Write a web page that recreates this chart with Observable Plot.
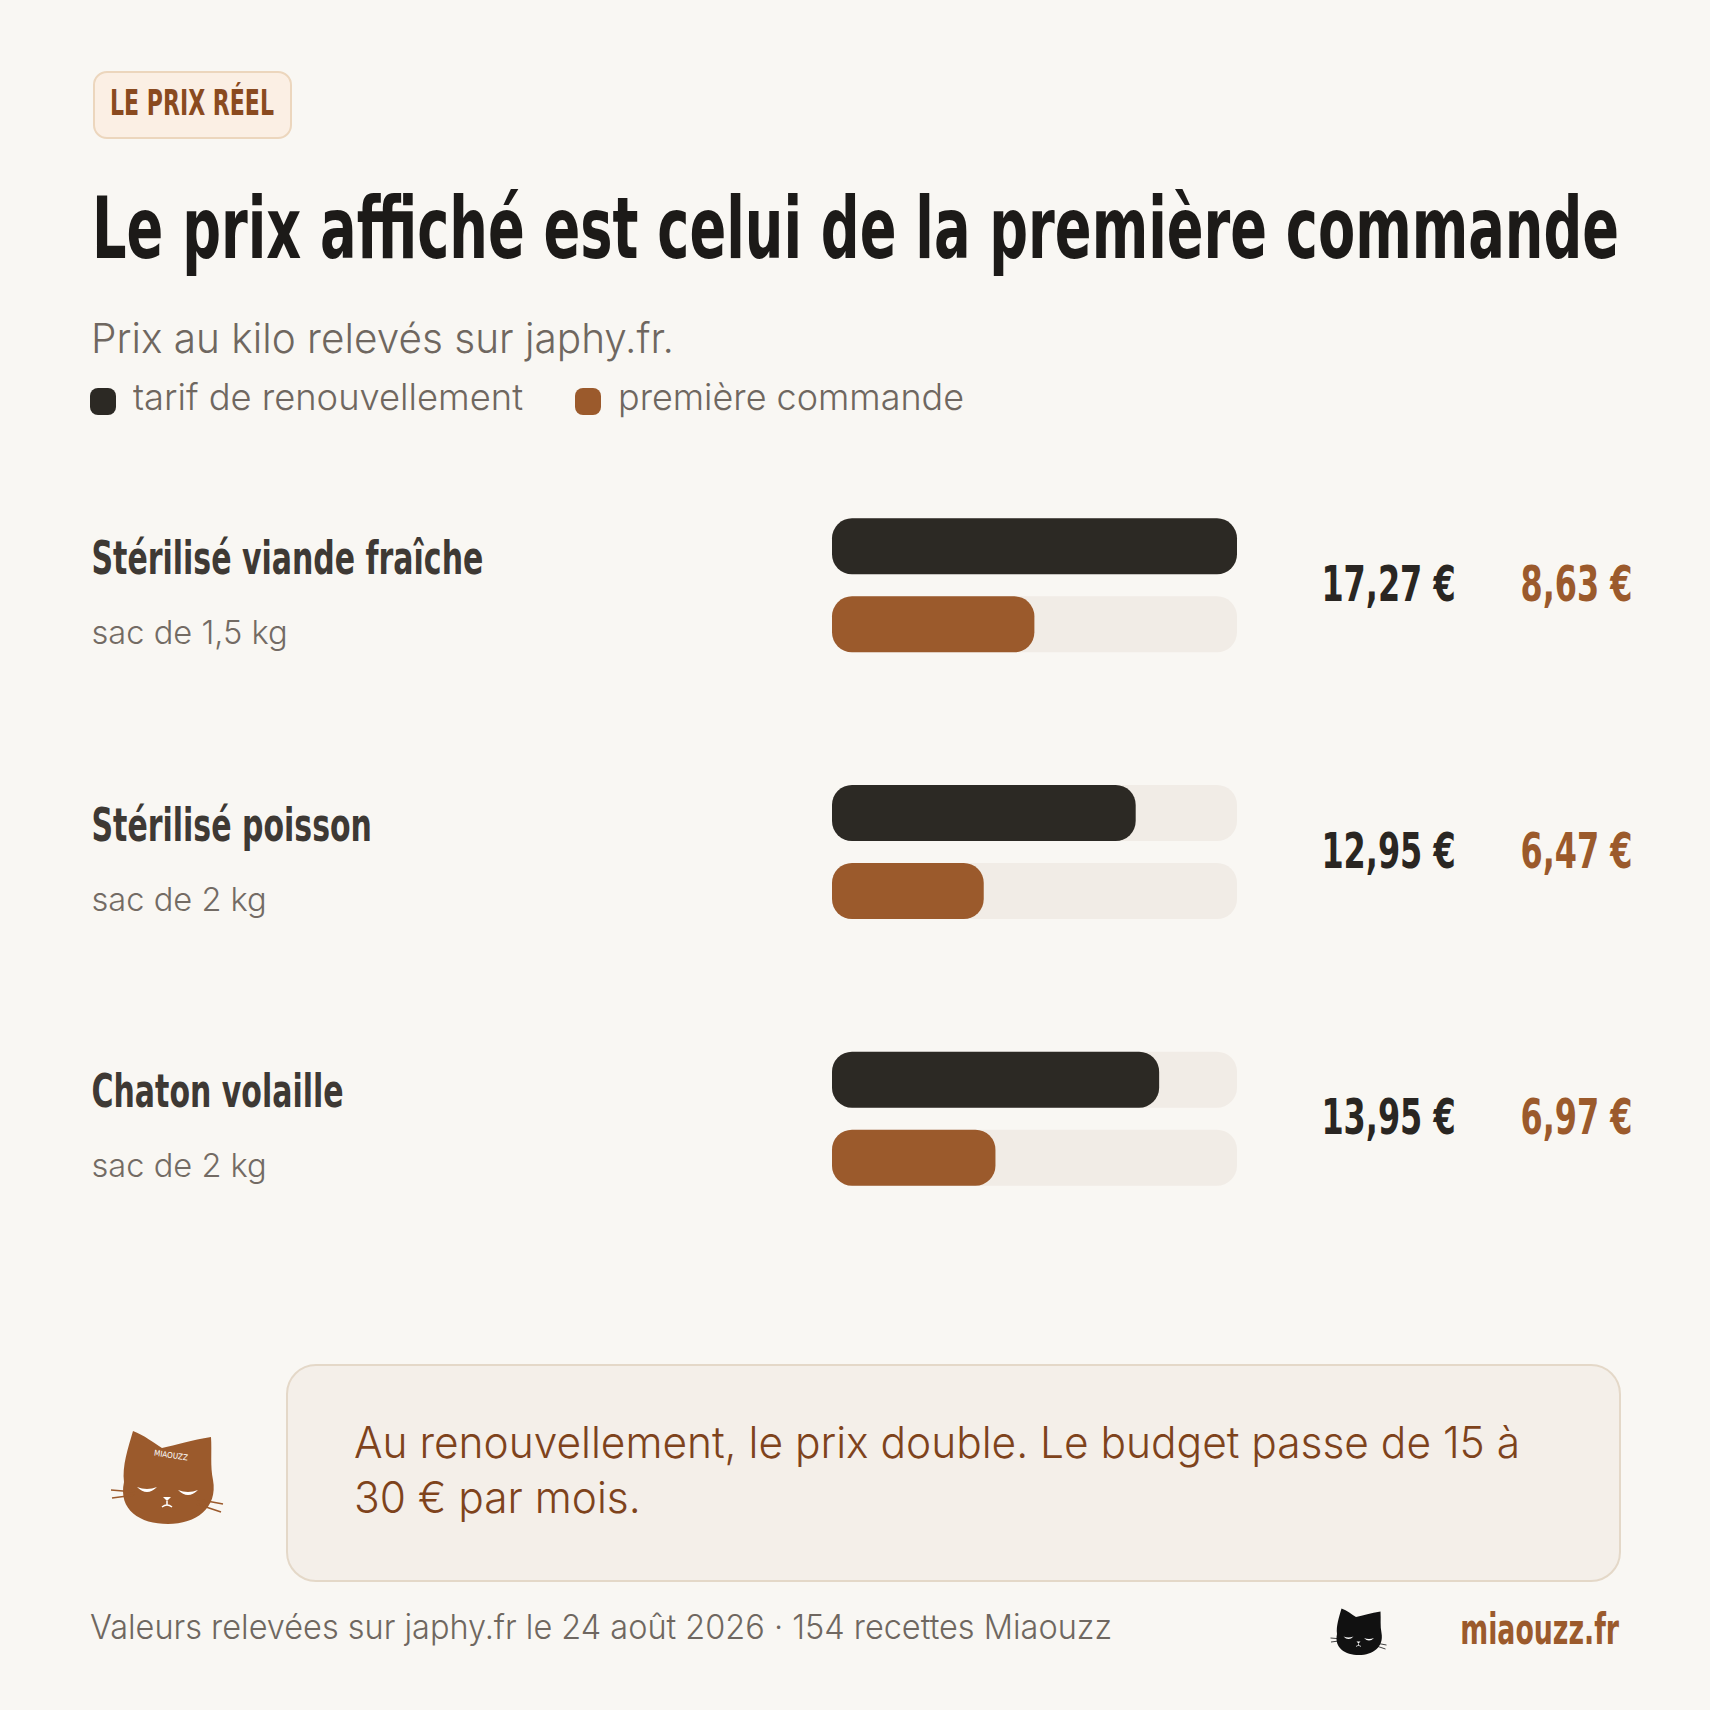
<!DOCTYPE html>
<html><head><meta charset="utf-8">
<script src="https://cdn.jsdelivr.net/npm/d3@7"></script>
<script src="https://cdn.jsdelivr.net/npm/@observablehq/plot@0.6"></script>
<style>
html,body{margin:0;padding:0;background:#f9f7f3;}
#page{position:relative;width:1710px;height:1710px;background:#f9f7f3;overflow:hidden;}
.t{position:absolute;white-space:nowrap;line-height:1;}
.box{position:absolute;box-sizing:border-box;}
#chart{position:absolute;left:0;top:440px;}
</style></head>
<body><div id="page"></div>
<script>
// ---------- data ----------
const categories = ["Stérilisé viande fraîche", "Stérilisé poisson", "Chaton volaille"];
const formats = ["sac de 1,5 kg", "sac de 2 kg", "sac de 2 kg"];
const renouvellement = [17.27, 12.95, 13.95];
const premiere = [8.63, 6.47, 6.97];
const seriesNames = ["tarif de renouvellement", "première commande"];
const seriesColors = ["#2c2924", "#9b5a2c"];
const badgeText = "LE PRIX RÉEL";
const titleText = "Le prix affiché est celui de la première commande";
const subtitleText = "Prix au kilo relevés sur japhy.fr.";
const calloutLines = ["Au renouvellement, le prix double. Le budget passe de 15 à", "30 € par mois."];
const footerText = "Valeurs relevées sur japhy.fr le 24 août 2026 · 154 recettes Miaouzz";
const siteText = "miaouzz.fr";

const COND = '"Liberation Sans Narrow","DejaVu Sans Condensed",sans-serif';
const BODY = 'Inter,"Noto Sans",sans-serif';
const BODYW = 300;
const ASC = {cond: 0.8465, body: 0.8633};

const page = document.getElementById("page");

function box(x, y, w, h, style) {
  const d = document.createElement("div");
  d.className = "box";
  Object.assign(d.style, {left: x + "px", top: y + "px", width: w + "px", height: h + "px"}, style);
  page.appendChild(d);
  return d;
}
function text(str, {x, baseline, size, kind = "body", weight = BODYW, color, anchor = "start"}) {
  const s = document.createElement("span");
  s.className = "t";
  s.textContent = str;
  Object.assign(s.style, {
    fontFamily: kind === "cond" ? COND : BODY, fontWeight: weight, fontSize: size + "px",
    color, top: (baseline - ASC[kind] * size) + "px"
  });
  if (anchor === "end") { s.style.right = (1710 - x) + "px"; s.style.transformOrigin = "right top"; }
  else { s.style.left = x + "px"; s.style.transformOrigin = "left top"; }
  page.appendChild(s);
  return s;
}
function fit(el, w) { const n = el.getBoundingClientRect().width; el.style.transform = `scaleX(${w / n})`; return w / n; }

// ---------- header ----------
box(93, 71, 199, 68, {border: "2.5px solid #ecd6bd", background: "#fbefe4", borderRadius: "14px"});
const badge = text(badgeText, {x: 110, baseline: 115, size: 36, kind: "cond", weight: 700, color: "#8a4a1f"});
fit(badge, 164);
const title = text(titleText, {x: 92, baseline: 258, size: 85, kind: "cond", weight: 700, color: "#1c1a18"});
const kCond = fit(title, 1527);
const sub = text(subtitleText, {x: 91, baseline: 353, size: 41, color: "#6f6760"});
const kBody = fit(sub, 583);

// legend
const legX = [90, 575];
const legW = [390, 346];
seriesNames.forEach((name, i) => {
  box(legX[i], 388, 26, 27, {background: seriesColors[i], borderRadius: "8px"});
  const t = text(name, {x: legX[i] + 43, baseline: 410, size: 37, color: "#6f6760"});
  fit(t, legW[i]);
});

// ---------- chart ----------
const rows = categories.map((c, i) => ({cat: c, fmt: formats[i], renew: renouvellement[i], first: premiere[i]}));
const xMax = d3.max(renouvellement);
const fmtEur = v => d3.format(".2f")(v).replace(".", ",") + " €";
const H = 830, mT = 12, mB = 18;
const band = (H - mT - mB) / categories.length;
const barH = 56, off = 39, inset = (band - barH) / 2, r = 20;
const common = {y: "cat", insetTop: inset, insetBottom: inset, rx: r, ry: r};

const chart = Plot.plot({
  width: 1710, height: H,
  marginLeft: 832, marginRight: 473, marginTop: mT, marginBottom: mB,
  x: {domain: [0, xMax], axis: null},
  y: {type: "band", domain: categories, padding: 0, round: false, axis: null},
  style: {background: "transparent", overflow: "visible"},
  marks: [
    Plot.barX(rows, {...common, x1: 0, x2: () => xMax, fill: "#f1ece6", dy: -off}),
    Plot.barX(rows, {...common, x1: 0, x2: () => xMax, fill: "#f1ece6", dy: off}),
    Plot.barX(rows, {...common, x1: 0, x2: "renew", fill: seriesColors[0], dy: -off}),
    Plot.barX(rows, {...common, x1: 0, x2: "first", fill: seriesColors[1], dy: off}),
    Plot.text(rows, {y: "cat", text: "cat", frameAnchor: "left", dx: -741, dy: -12, textAnchor: "start", lineAnchor: "bottom",
      fontFamily: COND, fontWeight: 700, fontSize: 47, fill: "#3e3934"}),
    Plot.text(rows, {y: "cat", text: "fmt", frameAnchor: "left", dx: -741, dy: 58, textAnchor: "start", lineAnchor: "bottom",
      fontFamily: BODY, fontWeight: BODYW, fontSize: 33, fill: "#736b64"}),
    Plot.text(rows, {y: "cat", text: d => fmtEur(d.renew), frameAnchor: "right", dx: 151, dy: 15, textAnchor: "middle", lineAnchor: "bottom",
      fontFamily: COND, fontWeight: 700, fontSize: 50, fill: "#2a2622"}),
    Plot.text(rows, {y: "cat", text: d => fmtEur(d.first), frameAnchor: "right", dx: 339, dy: 15, textAnchor: "middle", lineAnchor: "bottom",
      fontFamily: COND, fontWeight: 700, fontSize: 50, fill: seriesColors[1]})
  ]
});
chart.id = "chart";
page.appendChild(chart);
// condense text glyphs to match the reference typefaces
chart.querySelectorAll("g[font-family]").forEach(g => {
  const k = g.getAttribute("font-family") === COND ? kCond : kBody;
  g.querySelectorAll("text").forEach(t => {
    const L = t.getComputedTextLength();
    t.setAttribute("textLength", L * k);
    t.setAttribute("lengthAdjust", "spacingAndGlyphs");
  });
});

// ---------- callout ----------
box(286, 1364, 1335, 218, {border: "2.5px solid #e4d8c8", background: "#f4efe9", borderRadius: "30px"});
let kCall = 1;
calloutLines.forEach((l, i) => {
  const t = text(l, {x: 354, baseline: 1458 + i * 55, size: 44, color: "#7e431c"});
  if (i === 0) kCall = fit(t, 1166); else t.style.transform = `scaleX(${kCall})`;
});

// cat icons
function cat(x, y, s, fill, label) {
  const ns = "http://www.w3.org/2000/svg";
  const svg = document.createElementNS(ns, "svg");
  svg.setAttribute("width", 130 * s); svg.setAttribute("height", 115 * s);
  svg.setAttribute("viewBox", "0 0 130 115");
  svg.style.position = "absolute"; svg.style.left = x + "px"; svg.style.top = y + "px";
  svg.innerHTML = `
    <path d="M24 62 C22 46 28 28 33 11 C44 15 54 23 62 28 C76 25 92 20 111 17 C112 32 110 46 113 60 C118 88 96 104 68 104 C40 104 18 90 24 62 Z" fill="${fill}"/>
    <path d="M37 67 Q47 77 57 67 Q47 71 37 67 Z" fill="#fff"/>
    <path d="M78 70 Q88 80 98 70 Q88 74 78 70 Z" fill="#fff"/>
    <path d="M63 77 L71 77 L67 81 Z" fill="#fff"/>
    <path d="M67 81 L67 85 M62 87 Q64.5 85 67 85 Q69.5 85 72 87" stroke="#fff" stroke-width="1.5" fill="none"/>
    <path d="M11 70 L35 72 M12 78 L35 75 M96 79 L123 84 M97 84 L121 92" stroke="${fill}" stroke-width="1.6" fill="none"/>
    ${label ? `<text x="71" y="38" font-size="8" font-family='${COND}' fill="#fff" text-anchor="middle" transform="rotate(8 71 35)">MIAOUZZ</text>` : ""}`;
  page.appendChild(svg);
}
cat(100, 1420, 1, "#9b5a2c", true);
cat(1325, 1603, 0.5, "#111", false);

// ---------- footer ----------
const foot = text(footerText, {x: 90, baseline: 1639, size: 34, color: "#6f6760"});
fit(foot, 1022);
const site = text(siteText, {x: 1619, baseline: 1645, size: 42, kind: "cond", weight: 700, color: "#9b5a2c", anchor: "end"});
site.style.transform = `scaleX(${kCond})`;
</script>
</body></html>
